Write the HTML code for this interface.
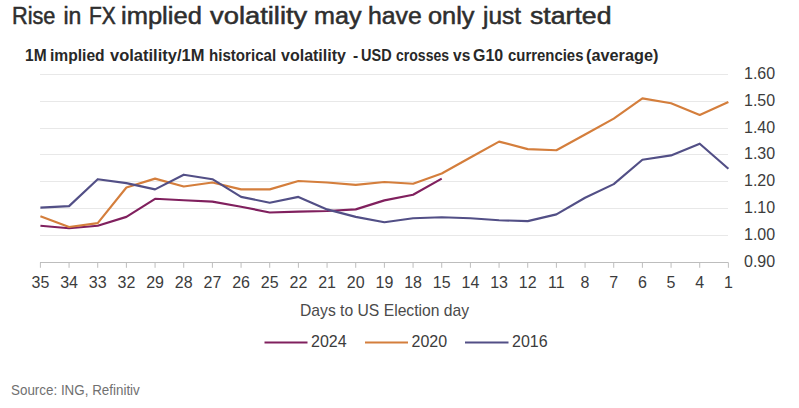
<!DOCTYPE html>
<html><head><meta charset="utf-8">
<style>
html,body{margin:0;padding:0;background:#fff;}
body{width:799px;height:408px;position:relative;overflow:hidden;font-family:"Liberation Sans",sans-serif;}
.t{position:absolute;white-space:nowrap;transform-origin:0 0;}
#title{left:11px;top:2px;font-size:23px;color:#2e2e2e;letter-spacing:1.0px;line-height:28px;-webkit-text-stroke:0.5px #2e2e2e;}
#sub{left:25px;top:45px;font-size:16.5px;font-weight:bold;color:#282828;line-height:20px;transform:scaleX(0.94);}
.tw{position:absolute;white-space:nowrap;transform-origin:0 0;font-size:23px;color:#2e2e2e;line-height:28px;-webkit-text-stroke:0.5px #2e2e2e;}
.sw{position:absolute;white-space:nowrap;transform-origin:0 0;font-size:16.5px;font-weight:bold;color:#282828;line-height:20px;}
#src{left:11px;top:381px;font-size:15px;color:#707070;line-height:18px;transform:scaleX(0.893);}
svg{position:absolute;left:0;top:0;}
</style></head><body>
<span class="tw" style="left:12.06px;top:2px;transform:scaleX(0.9444)">Rise</span>
<span class="tw" style="left:63.50px;top:2px;transform:scaleX(1.0000)">in</span>
<span class="tw" style="left:89.09px;top:2px;transform:scaleX(0.9107)">FX</span>
<span class="tw" style="left:121.39px;top:2px;transform:scaleX(1.1092)">implied</span>
<span class="tw" style="left:210.00px;top:2px;transform:scaleX(1.1890)">volatility</span>
<span class="tw" style="left:314.41px;top:2px;transform:scaleX(1.0930)">may</span>
<span class="tw" style="left:368.42px;top:2px;transform:scaleX(1.0781)">have</span>
<span class="tw" style="left:427.65px;top:2px;transform:scaleX(1.1012)">only</span>
<span class="tw" style="left:483.06px;top:2px;transform:scaleX(1.0608)">just</span>
<span class="tw" style="left:529.50px;top:2px;transform:scaleX(1.1594)">started</span>
<span class="sw" style="left:24.99px;top:45px;transform:scaleX(0.9400)">1M</span>
<span class="sw" style="left:50.05px;top:45px;transform:scaleX(0.9464)">implied</span>
<span class="sw" style="left:110.00px;top:45px;transform:scaleX(1.0000)">volatility/1M</span>
<span class="sw" style="left:209.08px;top:45px;transform:scaleX(0.9155)">historical</span>
<span class="sw" style="left:281.00px;top:45px;transform:scaleX(0.9701)">volatility</span>
<span class="sw" style="left:352.65px;top:45px;transform:scaleX(0.9400)">-</span>
<span class="sw" style="left:361.12px;top:45px;transform:scaleX(0.8788)">USD</span>
<span class="sw" style="left:395.65px;top:45px;transform:scaleX(0.8500)">crosses</span>
<span class="sw" style="left:453.04px;top:45px;transform:scaleX(0.9400)">vs</span>
<span class="sw" style="left:473.03px;top:45px;transform:scaleX(0.9667)">G10</span>
<span class="sw" style="left:508.00px;top:45px;transform:scaleX(0.9036)">currencies</span>
<span class="sw" style="left:586.01px;top:45px;transform:scaleX(0.9861)">(average)</span>

<svg width="799" height="408" viewBox="0 0 799 408">
<g shape-rendering="crispEdges">
<line x1="40" x2="728" y1="74.30" y2="74.30" stroke="#E8E8E8" stroke-width="1"/>
<line x1="40" x2="728" y1="101.16" y2="101.16" stroke="#E8E8E8" stroke-width="1"/>
<line x1="40" x2="728" y1="128.01" y2="128.01" stroke="#E8E8E8" stroke-width="1"/>
<line x1="40" x2="728" y1="154.87" y2="154.87" stroke="#E8E8E8" stroke-width="1"/>
<line x1="40" x2="728" y1="181.73" y2="181.73" stroke="#E8E8E8" stroke-width="1"/>
<line x1="40" x2="728" y1="208.59" y2="208.59" stroke="#E8E8E8" stroke-width="1"/>
<line x1="40" x2="728" y1="235.44" y2="235.44" stroke="#E8E8E8" stroke-width="1"/>

</g>
<line x1="40" x2="728" y1="262.5" y2="262.5" stroke="#BDBDBD" stroke-width="1"/>
<line x1="40.40" x2="40.40" y1="262.3" y2="267.8" stroke="#BDBDBD" stroke-width="1"/>
<line x1="69.07" x2="69.07" y1="262.3" y2="267.8" stroke="#BDBDBD" stroke-width="1"/>
<line x1="97.73" x2="97.73" y1="262.3" y2="267.8" stroke="#BDBDBD" stroke-width="1"/>
<line x1="126.40" x2="126.40" y1="262.3" y2="267.8" stroke="#BDBDBD" stroke-width="1"/>
<line x1="155.07" x2="155.07" y1="262.3" y2="267.8" stroke="#BDBDBD" stroke-width="1"/>
<line x1="183.73" x2="183.73" y1="262.3" y2="267.8" stroke="#BDBDBD" stroke-width="1"/>
<line x1="212.40" x2="212.40" y1="262.3" y2="267.8" stroke="#BDBDBD" stroke-width="1"/>
<line x1="241.07" x2="241.07" y1="262.3" y2="267.8" stroke="#BDBDBD" stroke-width="1"/>
<line x1="269.73" x2="269.73" y1="262.3" y2="267.8" stroke="#BDBDBD" stroke-width="1"/>
<line x1="298.40" x2="298.40" y1="262.3" y2="267.8" stroke="#BDBDBD" stroke-width="1"/>
<line x1="327.07" x2="327.07" y1="262.3" y2="267.8" stroke="#BDBDBD" stroke-width="1"/>
<line x1="355.73" x2="355.73" y1="262.3" y2="267.8" stroke="#BDBDBD" stroke-width="1"/>
<line x1="384.40" x2="384.40" y1="262.3" y2="267.8" stroke="#BDBDBD" stroke-width="1"/>
<line x1="413.07" x2="413.07" y1="262.3" y2="267.8" stroke="#BDBDBD" stroke-width="1"/>
<line x1="441.73" x2="441.73" y1="262.3" y2="267.8" stroke="#BDBDBD" stroke-width="1"/>
<line x1="470.40" x2="470.40" y1="262.3" y2="267.8" stroke="#BDBDBD" stroke-width="1"/>
<line x1="499.07" x2="499.07" y1="262.3" y2="267.8" stroke="#BDBDBD" stroke-width="1"/>
<line x1="527.73" x2="527.73" y1="262.3" y2="267.8" stroke="#BDBDBD" stroke-width="1"/>
<line x1="556.40" x2="556.40" y1="262.3" y2="267.8" stroke="#BDBDBD" stroke-width="1"/>
<line x1="585.07" x2="585.07" y1="262.3" y2="267.8" stroke="#BDBDBD" stroke-width="1"/>
<line x1="613.73" x2="613.73" y1="262.3" y2="267.8" stroke="#BDBDBD" stroke-width="1"/>
<line x1="642.40" x2="642.40" y1="262.3" y2="267.8" stroke="#BDBDBD" stroke-width="1"/>
<line x1="671.07" x2="671.07" y1="262.3" y2="267.8" stroke="#BDBDBD" stroke-width="1"/>
<line x1="699.73" x2="699.73" y1="262.3" y2="267.8" stroke="#BDBDBD" stroke-width="1"/>
<line x1="728.40" x2="728.40" y1="262.3" y2="267.8" stroke="#BDBDBD" stroke-width="1"/>

<g fill="none" stroke-width="2.15" stroke-linejoin="round" stroke-linecap="butt">
<polyline points="40.40,225.7 69.07,228.2 97.73,225.7 126.40,216.9 155.07,198.8 183.73,200.2 212.40,201.6 241.07,206.7 269.73,212.5 298.40,211.6 327.07,211.0 355.73,209.4 384.40,200.4 413.07,194.7 441.73,178.6" stroke="#80205E"/>
<polyline points="40.40,216.3 69.07,227.0 97.73,223.1 126.40,187.5 155.07,178.6 183.73,186.5 212.40,182.5 241.07,189.4 269.73,189.4 298.40,181.0 327.07,182.5 355.73,184.9 384.40,182.0 413.07,183.7 441.73,173.5 470.40,157.5 499.07,141.6 527.73,149.1 556.40,150.2 585.07,134.5 613.73,118.6 642.40,98.4 671.07,103.3 699.73,115.0 728.40,102.0" stroke="#D47E3C"/>
<polyline points="40.40,207.6 69.07,206.1 97.73,179.2 126.40,183.1 155.07,189.4 183.73,174.7 212.40,179.2 241.07,196.9 269.73,202.7 298.40,196.9 327.07,209.4 355.73,216.9 384.40,222.2 413.07,218.3 441.73,217.2 470.40,218.3 499.07,220.3 527.73,221.1 556.40,214.4 585.07,197.7 613.73,184.1 642.40,159.8 671.07,155.4 699.73,143.7 728.40,168.7" stroke="#524F86"/>
</g>
<g font-family="Liberation Sans" font-size="16" fill="#3c3c3c">
<text x="40.40" y="288.2" text-anchor="middle">35</text>
<text x="69.07" y="288.2" text-anchor="middle">34</text>
<text x="97.73" y="288.2" text-anchor="middle">33</text>
<text x="126.40" y="288.2" text-anchor="middle">32</text>
<text x="155.07" y="288.2" text-anchor="middle">29</text>
<text x="183.73" y="288.2" text-anchor="middle">28</text>
<text x="212.40" y="288.2" text-anchor="middle">27</text>
<text x="241.07" y="288.2" text-anchor="middle">26</text>
<text x="269.73" y="288.2" text-anchor="middle">25</text>
<text x="298.40" y="288.2" text-anchor="middle">22</text>
<text x="327.07" y="288.2" text-anchor="middle">21</text>
<text x="355.73" y="288.2" text-anchor="middle">20</text>
<text x="384.40" y="288.2" text-anchor="middle">19</text>
<text x="413.07" y="288.2" text-anchor="middle">18</text>
<text x="441.73" y="288.2" text-anchor="middle">15</text>
<text x="470.40" y="288.2" text-anchor="middle">14</text>
<text x="499.07" y="288.2" text-anchor="middle">13</text>
<text x="527.73" y="288.2" text-anchor="middle">12</text>
<text x="556.40" y="288.2" text-anchor="middle">11</text>
<text x="585.07" y="288.2" text-anchor="middle">8</text>
<text x="613.73" y="288.2" text-anchor="middle">7</text>
<text x="642.40" y="288.2" text-anchor="middle">6</text>
<text x="671.07" y="288.2" text-anchor="middle">5</text>
<text x="699.73" y="288.2" text-anchor="middle">4</text>
<text x="728.40" y="288.2" text-anchor="middle">1</text>

</g>
<g font-family="Liberation Sans" font-size="16" fill="#3c3c3c">
<text x="744" y="78.90">1.60</text>
<text x="744" y="105.76">1.50</text>
<text x="744" y="132.61">1.40</text>
<text x="744" y="159.47">1.30</text>
<text x="744" y="186.33">1.20</text>
<text x="744" y="213.19">1.10</text>
<text x="744" y="240.04">1.00</text>
<text x="744" y="266.90">0.90</text>

</g>
<text x="300" y="315.7" font-family="Liberation Sans" font-size="15.7" fill="#4a4a4a">Days to US Election day</text>
<g stroke-width="2.2">
<line x1="264.5" x2="307.5" y1="342.5" y2="342.5" stroke="#80205E"/>
<line x1="365" x2="408" y1="342.5" y2="342.5" stroke="#D47E3C"/>
<line x1="465" x2="508.5" y1="342.5" y2="342.5" stroke="#524F86"/>
</g>
<g font-family="Liberation Sans" font-size="16" fill="#3c3c3c">
<text x="311" y="347">2024</text>
<text x="411.5" y="347">2020</text>
<text x="512" y="347">2016</text>
</g>
</svg>
<div class="t" id="src">Source: ING, Refinitiv</div>
</body></html>
